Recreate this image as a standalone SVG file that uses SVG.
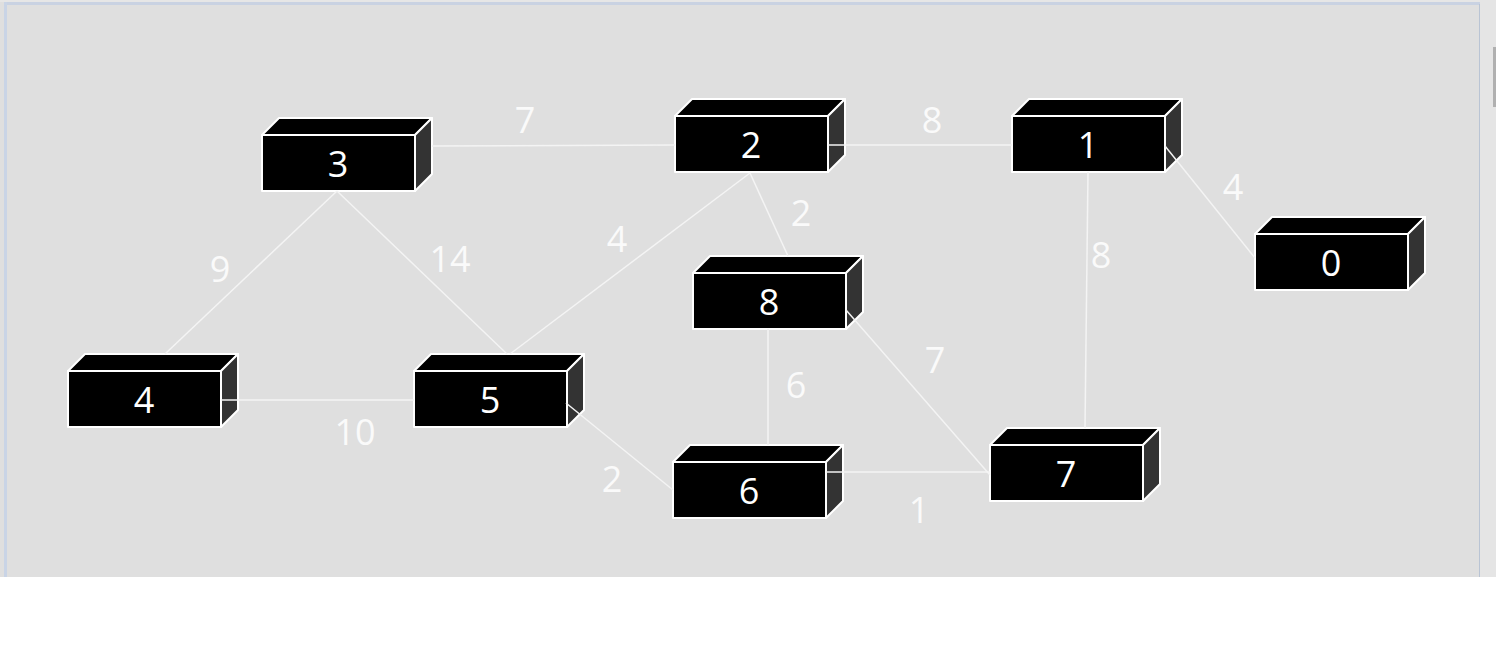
<svg xmlns="http://www.w3.org/2000/svg" xmlns:xlink="http://www.w3.org/1999/xlink" width="1496" height="648" viewBox="0 0 1496 648">
<style>
.face{fill:#000;stroke:#fff;stroke-width:2;stroke-linejoin:round}
.side{fill:#333;stroke:#fff;stroke-width:2;stroke-linejoin:round}
.lbl{font-family:"Open Sans","Liberation Sans",sans-serif;font-size:36px;fill:#fff;text-anchor:middle}
.elbl{font-family:"Open Sans","Liberation Sans",sans-serif;font-size:36px;fill:#fafafa;text-anchor:middle}
.edge{stroke:#f4f4f4;stroke-width:1.5;fill:none}
.dim .face{fill:#151515}
</style>
<defs>
<g id="box">
<polygon class="face" points="0,0 17,-17 170,-17 153,0"/>
<polygon class="side" points="153,0 170,-17 170,39 153,56"/>
<rect class="face" x="0" y="0" width="153" height="56"/>
</g>
</defs>
<rect x="0" y="0" width="1496" height="648" fill="#fff"/>
<rect x="0" y="0" width="1480" height="577" fill="#dfdfdf"/>
<rect x="0" y="0" width="1480" height="2" fill="#e6e6e6"/>
<rect x="4" y="2" width="1476" height="3" fill="#c9d2e2"/>
<rect x="4" y="2" width="3" height="575" fill="#c9d4e6"/>
<rect x="1480" y="0" width="16" height="577" fill="#e5e5e5"/>
<rect x="1479" y="4" width="1" height="573" fill="#b9c4d4"/>
<rect x="1493" y="47" width="3" height="60" fill="#b0b0b0"/>
<g id="nodes">
<g id="n3"><use href="#box" x="262" y="135"/><text class="lbl" x="338" y="177">3</text></g>
<g id="n2"><use href="#box" x="675" y="116"/><text class="lbl" x="751" y="158">2</text></g>
<g id="n1"><use href="#box" x="1012" y="116"/><text class="lbl" x="1088" y="158">1</text></g>
<g id="n0"><use href="#box" x="1255" y="234"/><text class="lbl" x="1331" y="276">0</text></g>
<g id="n8"><use href="#box" x="693" y="273"/><text class="lbl" x="769" y="315">8</text></g>
<g id="n4"><use href="#box" x="68" y="371"/><text class="lbl" x="144" y="413">4</text></g>
<g id="n5"><use href="#box" x="414" y="371"/><text class="lbl" x="490" y="413">5</text></g>
<g id="n6" class="dim"><use href="#box" x="673" y="462"/><text class="lbl" x="749" y="504">6</text></g>
<g id="n7" class="dim"><use href="#box" x="990" y="445"/><text class="lbl" x="1066" y="487">7</text></g>
</g>
<g id="connectors">
<line class="edge" x1="432" y1="146" x2="675" y2="145"/>
<line class="edge" x1="828" y1="145" x2="1012" y2="145"/>
<line class="edge" x1="1165" y1="146" x2="1255" y2="258"/>
<line class="edge" x1="1088" y1="172" x2="1085" y2="428"/>
<line class="edge" x1="337" y1="191" x2="165" y2="354"/>
<line class="edge" x1="337" y1="191" x2="507" y2="354"/>
<line class="edge" x1="750" y1="173" x2="510" y2="354"/>
<line class="edge" x1="750" y1="173" x2="788" y2="256"/>
<line class="edge" x1="768" y1="329" x2="768" y2="445"/>
<line class="edge" x1="846" y1="310" x2="990" y2="475"/>
<line class="edge" x1="221" y1="400" x2="414" y2="400"/>
<line class="edge" x1="566" y1="403" x2="673" y2="490"/>
<line class="edge" x1="826" y1="472" x2="990" y2="472"/>
</g>
<g id="edge-labels">
<text class="elbl" x="525" y="133">7</text>
<text class="elbl" x="932" y="133">8</text>
<text class="elbl" x="1233" y="200">4</text>
<text class="elbl" x="1101" y="268">8</text>
<text class="elbl" x="220" y="282">9</text>
<text class="elbl" x="450" y="272">14</text>
<text class="elbl" x="617" y="252">4</text>
<text class="elbl" x="801" y="226">2</text>
<text class="elbl" x="796" y="398">6</text>
<text class="elbl" x="935" y="373">7</text>
<text class="elbl" x="355" y="445">10</text>
<text class="elbl" x="612" y="492">2</text>
<text class="elbl" x="919" y="523">1</text>
</g>
</svg>
